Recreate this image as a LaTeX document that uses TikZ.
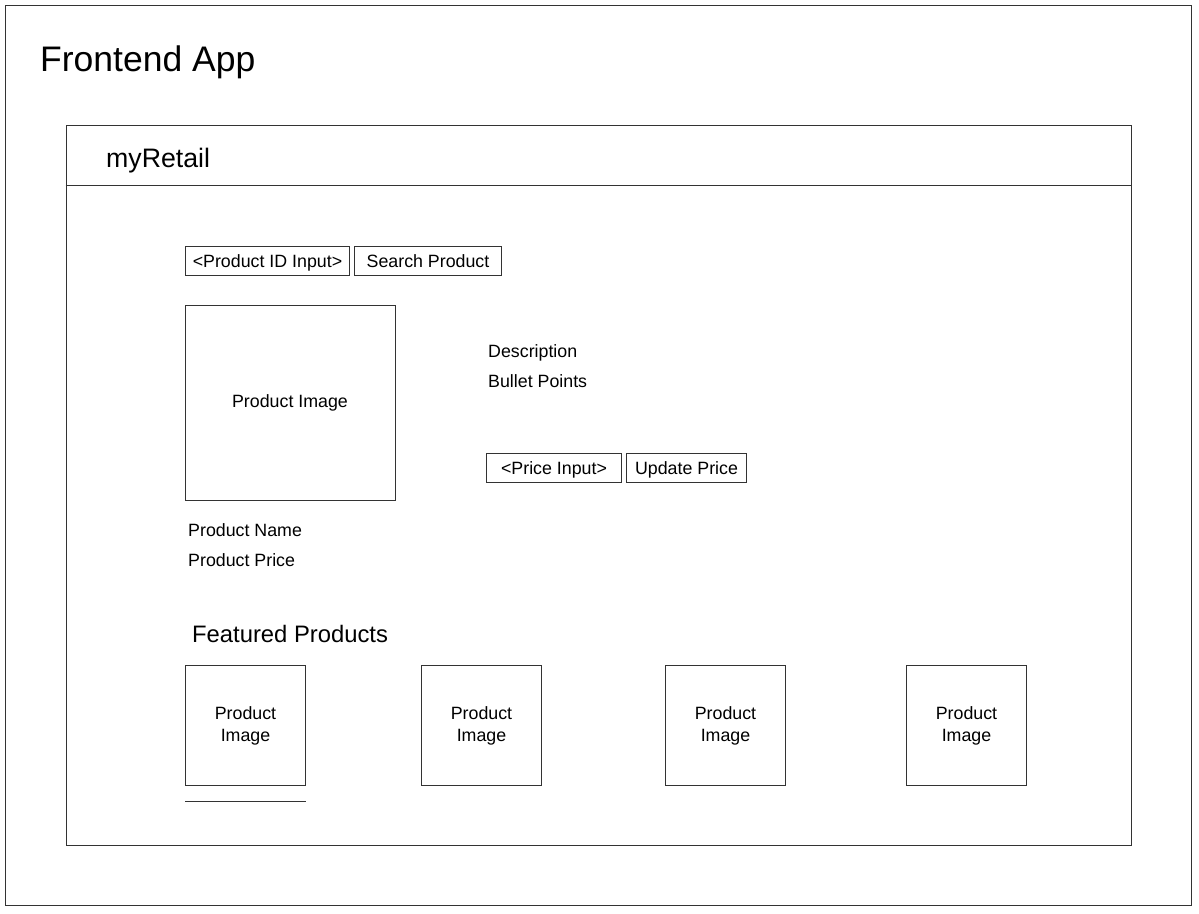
\documentclass[tikz,border=0pt]{standalone}
\usepackage{fontspec}
\setmainfont{Liberation Sans}
\usetikzlibrary{positioning}

\begin{document}
\begin{tikzpicture}[
    x=1pt, y=-1pt,
    node distance=4pt,
    every node/.style={
        inner sep=0pt,
        align=center,
        font=\fontsize{17.8}{22}\selectfont
    },
    frame/.style={draw=black!80, line width=1pt},
    widget/.style={frame, minimum height=29pt, text height=15pt, text depth=1.3pt},
    thumb/.style={frame, minimum width=120pt, minimum height=120pt, anchor=north west},
    plain/.style={anchor=base west}
]
\useasboundingbox (0,0) rectangle (1199,913);

\node[frame, minimum width=1186pt, minimum height=900pt] (app) at (598,455) {};
\node[plain, font=\fontsize{35.5}{40}\selectfont] (apptitle) at (40,71) {Frontend App};

\node[frame, minimum width=1065pt, minimum height=720pt] (retail) at (598.5,485) {};
\draw[frame] (retail.west |- 0,185) -- (retail.east |- 0,185);
\node[plain, font=\fontsize{26.7}{30}\selectfont] (retailtitle) at (106,167) {myRetail};

\node[widget, minimum width=164pt, anchor=north west] (idinput) at (185,246) {<Product ID Input>};
\node[widget, minimum width=147pt, right=of idinput] (search) {Search Product};

\node[frame, minimum width=210pt, minimum height=195pt] (image) at (290,402.5) {Product Image};

\node[plain] (desc) at (488,357) {Description};
\node[plain] (bullets) at (488,387) {Bullet Points};

\node[widget, minimum width=135pt, anchor=north west] (priceinput) at (486,453) {<Price Input>};
\node[widget, minimum width=120pt, right=of priceinput] (update) {Update Price};

\node[plain] (name) at (188,536) {Product Name};
\node[plain] (price) at (188,566) {Product Price};

\node[plain, font=\fontsize{23.8}{28}\selectfont] (featured) at (192,642) {Featured Products};

\foreach \x [count=\i] in {185,421,665,906}
    \node[thumb] (feat\i) at (\x,665) {Product\\Image};
\draw[frame] ([yshift=-15pt]feat1.south west) -- ([yshift=-15pt]feat1.south east);

\end{tikzpicture}
\end{document}
